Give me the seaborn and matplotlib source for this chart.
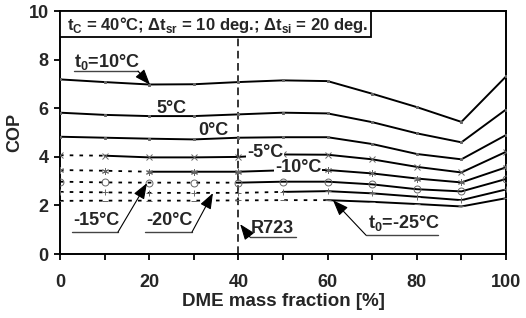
import numpy as np
import pandas as pd
import seaborn as sns
import matplotlib.pyplot as plt
from matplotlib.patches import Rectangle
from matplotlib.ticker import MultipleLocator

# Data: COP vs DME mass fraction for each evaporation temperature
dme = [0, 10, 20, 30, 40, 50, 60, 70, 80, 90, 100]
cop_10 = [7.19, 7.08, 6.98, 6.99, 7.08, 7.15, 7.12, 6.60, 6.05, 5.44, 7.31]
cop_5 = [5.82, 5.73, 5.68, 5.68, 5.75, 5.82, 5.79, 5.43, 4.97, 4.60, 5.95]
cop_0 = [4.83, 4.79, 4.75, 4.72, 4.79, 4.81, 4.81, 4.53, 4.12, 3.90, 4.90]
cop_m5 = [4.07, 4.05, 3.98, 3.98, 4.00, 4.10, 4.09, 3.90, 3.59, 3.36, 4.21]
cop_m10 = [3.46, 3.43, 3.39, 3.39, 3.39, 3.45, 3.46, 3.32, 3.11, 2.95, 3.57]
cop_m15 = [2.98, 2.95, 2.94, 2.94, 2.94, 2.98, 2.98, 2.87, 2.67, 2.58, 3.09]
cop_m20 = [2.56, 2.54, 2.52, 2.52, 2.52, 2.56, 2.59, 2.50, 2.36, 2.22, 2.66]
cop_m25 = [2.19, 2.20, 2.20, 2.20, 2.21, 2.22, 2.22, 2.15, 2.06, 1.96, 2.30]

# (values, marker, dme fraction where the valid/solid part starts)
curves = [
    (cop_10, "s", 0), (cop_5, "s", 0), (cop_0, "s", 0),
    (cop_m5, "x", 10), (cop_m10, (6, 2, 0), 20), (cop_m15, "o", 40),
    (cop_m20, "+", 50), (cop_m25, "_", 60),
]

sns.set_theme(style="ticks")
plt.rcParams["font.family"] = ["Liberation Sans", "DejaVu Sans"]
plt.rcParams["font.weight"] = "bold"
plt.rcParams["mathtext.fontset"] = "custom"
plt.rcParams["mathtext.rm"] = "Liberation Sans:bold"
plt.rcParams["mathtext.bf"] = "Liberation Sans:bold"

fig = plt.figure(figsize=(5.26, 3.18), dpi=100)
ax = fig.add_axes([0.114, 0.201, 0.848, 0.764])

for vals, mk, start in curves:
    df = pd.DataFrame({"x": dme, "y": vals})
    solid = df[df.x >= start]
    dotted = df[df.x <= start]
    sns.lineplot(data=solid, x="x", y="y", ax=ax, color="black", lw=1.4,
                 sort=False, zorder=3)
    if len(dotted) > 1:
        sns.lineplot(data=dotted, x="x", y="y", ax=ax, color="black", lw=1.3,
                     linestyle=(0, (2.0, 3.4)), sort=False, zorder=3)
    ms = 1.8 if mk == "s" else 5
    ax.plot(df.x, df.y, linestyle="none", marker=mk, ms=ms,
            mfc="none" if mk == "o" else "#666666",
            mec="#666666", mew=0.7, zorder=4)

# R723 line
ax.axvline(40, ymin=0, ymax=0.893, color="black", lw=1.1, linestyle=(0, (5, 3)), zorder=2)

# header box
ax.add_patch(Rectangle((0, 0.893), 0.697, 0.107, transform=ax.transAxes,
                       facecolor="white", edgecolor="black", lw=1.3, zorder=5))
ax.text(0.016, 0.944, r"t$_\mathrm{C}$ = 40°C; Δt$_\mathrm{sr}$ = 10 deg.; Δt$_\mathrm{si}$ = 20 deg.",
        transform=ax.transAxes, fontsize=12, va="center", ha="left", zorder=6)

lab = dict(fontsize=13, va="center", zorder=6)
ax.text(25.1, 6.0, "5°C", ha="center", **lab)
ax.text(34.5, 5.1, "0°C", ha="center", **lab)
ax.text(46.0, 4.17, "-5°C", ha="center", bbox=dict(fc="white", ec="none", pad=0.5), **lab)
ax.text(53.4, 3.58, "-10°C", ha="center", bbox=dict(fc="white", ec="none", pad=0.5), **lab)

# labels with underline and arrow: text, text pos (left), underline, arrow tail, arrow tip
annots = [
    (r"t$_\mathrm{0}$=10°C", (3.1, 7.9), (3.1, 17.5, 7.53), (17.5, 7.53), (20.2, 6.97)),
    ("-15°C", (2.9, 1.40), (2.7, 13.0, 0.905), (13.0, 0.905), (19.5, 2.92)),
    ("-20°C", (19.3, 1.40), (19.1, 29.6, 0.905), (29.6, 0.905), (34.3, 2.51)),
    ("R723", (42.8, 1.07), (42.6, 52.9, 0.70), (42.6, 0.70), (40.4, 1.23)),
    (r"t$_\mathrm{0}$=-25°C", (69.0, 1.28), (68.6, 84.8, 0.78), (68.6, 0.78), (61.2, 2.22)),
]
for txt, pos, ul, tail, tip in annots:
    ax.text(pos[0], pos[1], txt, ha="left", **lab)
    ax.plot([ul[0], ul[1]], [ul[2], ul[2]], color="#444444", lw=1.0, zorder=5)
    ax.annotate("", xy=tip, xytext=tail, zorder=5,
                arrowprops=dict(arrowstyle="-|>,head_length=0.8,head_width=0.3",
                                color="black", lw=0.8, shrinkA=0, shrinkB=0))

ax.set_xlim(0, 100)
ax.set_ylim(0, 10)
ax.xaxis.set_major_locator(MultipleLocator(20))
ax.xaxis.set_minor_locator(MultipleLocator(10))
ax.yaxis.set_major_locator(MultipleLocator(2))
ax.tick_params(axis="both", which="both", direction="out", length=4, width=1.3,
               color="black", labelsize=13)
ax.tick_params(axis="x", pad=10)
ax.tick_params(axis="y", pad=4)
for s in ax.spines.values():
    s.set_linewidth(1.4)
    s.set_color("black")
    s.set_visible(True)

ax.set_xlabel("DME mass fraction [%]", fontsize=13.5, fontweight="bold", labelpad=2)
ax.set_ylabel("COP", fontsize=13, fontweight="bold", labelpad=4)

fig.savefig("out.png", dpi=100)
